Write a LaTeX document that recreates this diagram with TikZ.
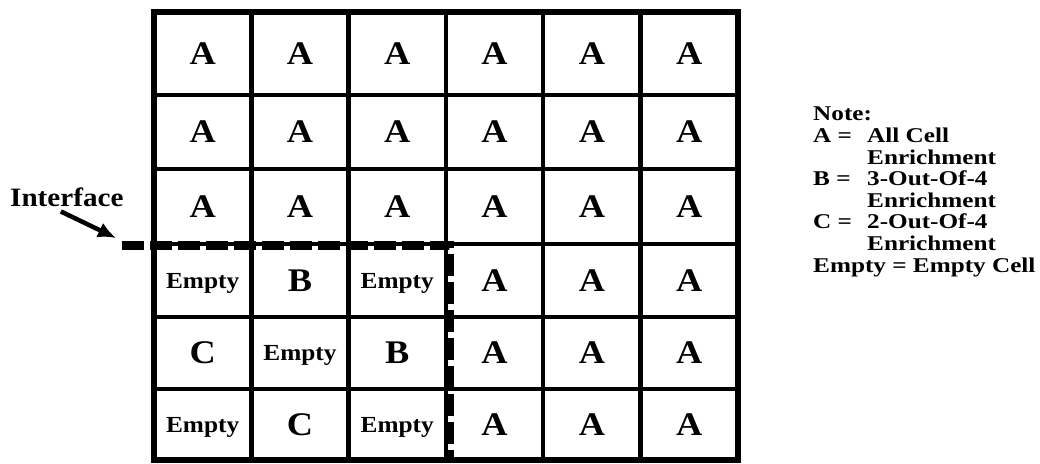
\documentclass[tikz,border=0pt]{standalone}
\usepackage{fontspec}
\setmainfont{Liberation Serif}[FakeStretch=1.1]
\newfontfamily\keyfont{Liberation Serif}[FakeStretch=1.2]
\usetikzlibrary{arrows.meta}

\begin{document}
\begin{tikzpicture}[x=1pt, y=-1pt,
	letter/.style={font=\fontsize{33}{33}\selectfont\bfseries},
	emptycell/.style={font=\fontsize{23}{23}\selectfont\bfseries, text depth=0pt},
	legend/.style={font=\keyfont\fontsize{21}{21.6}\selectfont\bfseries, inner sep=0pt, align=left},
	gridline/.style={line width=4.5pt},
	iface/.style={line width=9pt, dash pattern=on 22pt off 6pt},
	>={Latex[length=18pt, width=16pt]}]
	\useasboundingbox (0,0) rectangle (1040,463);
	% cell grid
	\foreach \x in {251.3, 348.6, 445.9, 543.2, 640.5}
		\draw[gridline] (\x,12) -- (\x,460);
	\foreach \y in {95, 169, 244, 317, 389}
		\draw[gridline] (154,\y) -- (737.8,\y);
	\draw[gridline, line width=5.5pt] (154,12) rectangle (737.8,460);
	% all cell enrichment
	\foreach \r/\y in {1/53.5, 2/132, 3/206.5}
		\foreach \c in {1,...,6}
			\node[letter] (cell-\r-\c) at (154+97.3*\c-48.65,\y) {A};
	\foreach \r/\y in {4/280.5, 5/353, 6/424.5}
		\foreach \c in {4,5,6}
			\node[letter] (cell-\r-\c) at (154+97.3*\c-48.65,\y) {A};
	% lower left corner
	\node[emptycell] (cell-4-1) at (202.65,280.5) {Empty};
	\node[letter]    (cell-4-2) at (299.95,280.5) {B};
	\node[emptycell] (cell-4-3) at (397.25,280.5) {Empty};
	\node[letter]    (cell-5-1) at (202.65,353) {C};
	\node[emptycell] (cell-5-2) at (299.95,353) {Empty};
	\node[letter]    (cell-5-3) at (397.25,353) {B};
	\node[emptycell] (cell-6-1) at (202.65,424.5) {Empty};
	\node[letter]    (cell-6-2) at (299.95,424.5) {C};
	\node[emptycell] (cell-6-3) at (397.25,424.5) {Empty};
	% interface
	\coordinate (iface-start) at (122,245);
	\coordinate (iface-corner) at (449,245);
	\coordinate (iface-end) at (449,460);
	\draw[iface] (iface-start) -- (iface-corner) -- (iface-end);
	\node[font=\fontsize{26.5}{26.5}\selectfont\bfseries, inner sep=0pt, anchor=base west] (iflabel) at (10,206) {Interface};
	\coordinate (ifend) at (116,238);
	\draw[->, line width=4.5pt] ([shift={(-6,5)}]iflabel.south) -- (ifend);
	% key
	\node[legend, anchor=north west] (note) at (813,107) {Note:\\
		\makebox[54pt][l]{A =}All Cell\\
		\hspace*{54pt}Enrichment\\
		\makebox[54pt][l]{B =}3-Out-Of-4\\
		\hspace*{54pt}Enrichment\\
		\makebox[54pt][l]{C =}2-Out-Of-4\\
		\hspace*{54pt}Enrichment\\
		Empty = Empty Cell};
\end{tikzpicture}
\end{document}
